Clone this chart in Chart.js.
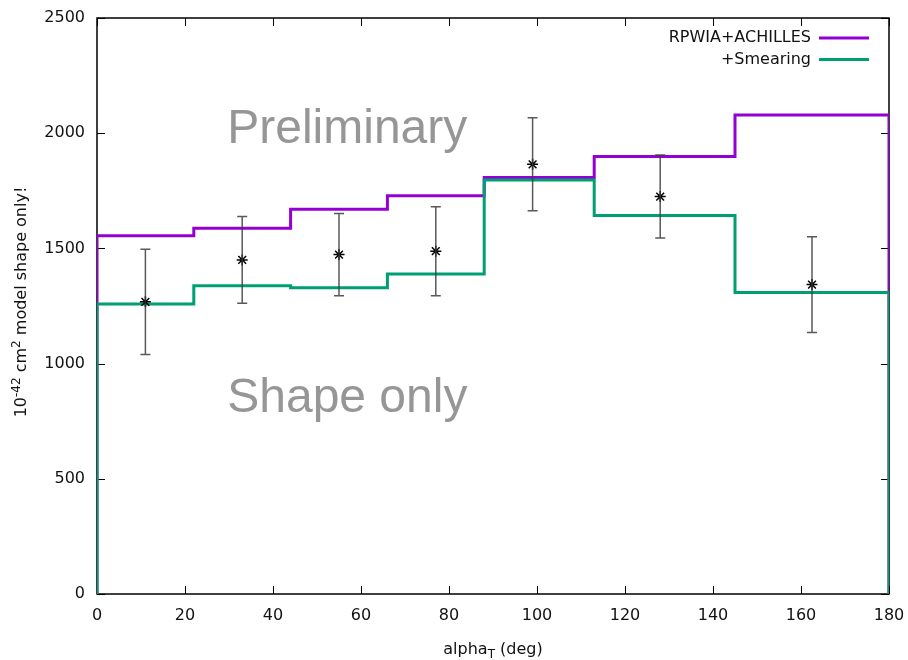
<!DOCTYPE html>
<html>
<head>
<meta charset="utf-8">
<script src="https://cdn.jsdelivr.net/npm/chart.js@4.4.1/dist/chart.umd.min.js"></script>
<style>
  body { margin: 0; background: #fff; }
  #wrap { width: 908px; height: 660px; position: relative; }
</style>
</head>
<body>
<div id="wrap"><canvas id="c"></canvas></div>
<script>
// histogram bin edges (deg) and bin contents
const binEdges = [0, 22, 44, 66, 88, 113, 145, 180];
const rpwia    = [1555, 1587, 1670, 1729, 1808, 1899, 2079];
const smearing = [1259, 1338, 1329, 1389, 1797, 1643, 1309];

// measured points with symmetric errors
const dataX   = [11, 33, 55, 77, 99, 128, 162.5];
const dataY   = [1268, 1450, 1473, 1488, 1865, 1725, 1343];
const dataErr = [228, 188, 178, 193, 202, 180, 208];

const xTicks = [0, 20, 40, 60, 80, 100, 120, 140, 160, 180];
const yTicks = [0, 500, 1000, 1500, 2000, 2500];

// turn bin edges + contents into points for a stepped line
function histPoints(vals) {
  const pts = [{ x: binEdges[0], y: 0 }];
  vals.forEach((v, i) => pts.push({ x: binEdges[i], y: v }));
  pts.push({ x: binEdges[binEdges.length - 1], y: vals[vals.length - 1] });
  pts.push({ x: binEdges[binEdges.length - 1], y: 0 });
  return pts;
}

const FONT = '"DejaVu Sans", Verdana, sans-serif';

// gnuplot-ish frame, inward ticks, error bars, legend, titles, watermark text
const decor = {
  id: 'decor',
  beforeDatasetsDraw(chart) {
    const { ctx, chartArea: a, scales: { x, y } } = chart;
    ctx.save();
    ctx.strokeStyle = '#000';
    ctx.lineWidth = 1.5;
    ctx.strokeRect(a.left, a.top, a.right - a.left, a.bottom - a.top);
    ctx.lineWidth = 1;
    ctx.beginPath();
    xTicks.forEach(t => {
      const px = Math.round(x.getPixelForValue(t)) + 0.5;
      ctx.moveTo(px, a.bottom); ctx.lineTo(px, a.bottom - 8);
      ctx.moveTo(px, a.top); ctx.lineTo(px, a.top + 8);
    });
    yTicks.forEach(t => {
      const py = Math.round(y.getPixelForValue(t)) + 0.5;
      ctx.moveTo(a.left, py); ctx.lineTo(a.left + 8, py);
      ctx.moveTo(a.right, py); ctx.lineTo(a.right - 8, py);
    });
    ctx.stroke();

    // watermark text
    ctx.fillStyle = 'rgb(150,150,150)';
    ctx.font = '48px "Liberation Sans", Arial, sans-serif';
    ctx.textBaseline = 'alphabetic';
    ctx.fillText('Preliminary', x.getPixelForValue(29.6), y.getPixelForValue(1958));
    ctx.fillText('Shape only', x.getPixelForValue(29.6), y.getPixelForValue(792));
    ctx.restore();
  },
  afterDatasetsDraw(chart) {
    const { ctx, chartArea: a, scales: { x, y } } = chart;
    ctx.save();
    // error bars
    ctx.strokeStyle = 'rgba(60,60,60,0.85)';
    ctx.lineWidth = 1.5;
    ctx.beginPath();
    dataX.forEach((vx, i) => {
      const px = x.getPixelForValue(vx);
      const top = y.getPixelForValue(dataY[i] + dataErr[i]);
      const bot = y.getPixelForValue(dataY[i] - dataErr[i]);
      ctx.moveTo(px, top); ctx.lineTo(px, bot);
      ctx.moveTo(px - 5, top); ctx.lineTo(px + 5, top);
      ctx.moveTo(px - 5, bot); ctx.lineTo(px + 5, bot);
    });
    ctx.stroke();

    // legend
    ctx.font = '16px ' + FONT;
    ctx.fillStyle = '#111';
    ctx.textAlign = 'right';
    ctx.textBaseline = 'middle';
    const sets = chart.data.datasets.filter(d => d.type === 'line');
    sets.forEach((d, i) => {
      const ly = 38 + i * 21.5;
      ctx.fillText(d.label, 811, ly);
      ctx.strokeStyle = d.borderColor;
      ctx.lineWidth = 3;
      ctx.beginPath();
      ctx.moveTo(819, ly); ctx.lineTo(869, ly);
      ctx.stroke();
    });

    // x title with subscript
    ctx.fillStyle = '#111';
    ctx.textAlign = 'left';
    ctx.textBaseline = 'alphabetic';
    const xc = (a.left + a.right) / 2;
    const base = 654;
    ctx.font = '16px ' + FONT;
    const w1 = ctx.measureText('alpha').width;
    const w3 = ctx.measureText(' (deg)').width;
    ctx.font = '12px ' + FONT;
    const w2 = ctx.measureText('T').width;
    let cx = xc - (w1 + w2 + w3) / 2;
    ctx.font = '16px ' + FONT;
    ctx.fillText('alpha', cx, base); cx += w1;
    ctx.font = '12px ' + FONT;
    ctx.fillText('T', cx, base + 4); cx += w2;
    ctx.font = '16px ' + FONT;
    ctx.fillText(' (deg)', cx, base);

    // y title with superscripts, rotated
    const parts = [
      ['10', false], ['-42', true], [' cm', false], ['2', true], [' model shape only!', false]
    ];
    ctx.translate(26, 302);
    ctx.rotate(-Math.PI / 2);
    let total = 0;
    parts.forEach(([t, sup]) => {
      ctx.font = (sup ? '12px ' : '16px ') + FONT;
      total += ctx.measureText(t).width;
    });
    let px = -total / 2;
    parts.forEach(([t, sup]) => {
      ctx.font = (sup ? '12px ' : '16px ') + FONT;
      ctx.fillText(t, px, sup ? -6 : 0);
      px += ctx.measureText(t).width;
    });
    ctx.restore();
  }
};

new Chart(document.getElementById('c'), {
  data: {
    datasets: [
      {
        type: 'line',
        label: 'RPWIA+ACHILLES',
        data: histPoints(rpwia),
        borderColor: '#9400d3',
        borderWidth: 3,
        stepped: true,
        pointRadius: 0,
        fill: false,
        order: 2
      },
      {
        type: 'line',
        label: '+Smearing',
        data: histPoints(smearing),
        borderColor: '#009e73',
        borderWidth: 3,
        stepped: true,
        pointRadius: 0,
        fill: false,
        order: 1
      },
      {
        type: 'scatter',
        label: 'data',
        data: dataX.map((vx, i) => ({ x: vx, y: dataY[i] })),
        pointStyle: 'star',
        pointRadius: 5.5,
        borderColor: '#000',
        backgroundColor: '#000',
        borderWidth: 1.5,
        order: 0
      }
    ]
  },
  options: {
    responsive: true,
    maintainAspectRatio: false,
    animation: false,
    layout: { padding: { top: 18, right: 19, left: 0, bottom: 0 } },
    plugins: { legend: { display: false }, tooltip: { enabled: false } },
    scales: {
      x: {
        type: 'linear',
        min: 0, max: 180,
        afterBuildTicks: s => { s.ticks = xTicks.map(v => ({ value: v })); },
        afterFit: s => { s.height = 66; s.paddingLeft = 0; s.paddingRight = 0; },
        grid: { display: false, drawTicks: false },
        border: { display: false },
        ticks: { color: '#111', font: { family: FONT, size: 16 }, padding: 12, maxRotation: 0,
                 callback: v => String(v) }
      },
      y: {
        type: 'linear',
        min: 0, max: 2500,
        afterBuildTicks: s => { s.ticks = yTicks.map(v => ({ value: v })); },
        afterFit: s => { s.width = 97; s.paddingTop = 0; s.paddingBottom = 0; },
        grid: { display: false, drawTicks: false },
        border: { display: false },
        ticks: { color: '#111', font: { family: FONT, size: 16 }, padding: 12,
                 callback: v => String(v) }
      }
    }
  },
  plugins: [decor]
});
</script>
</body>
</html>
